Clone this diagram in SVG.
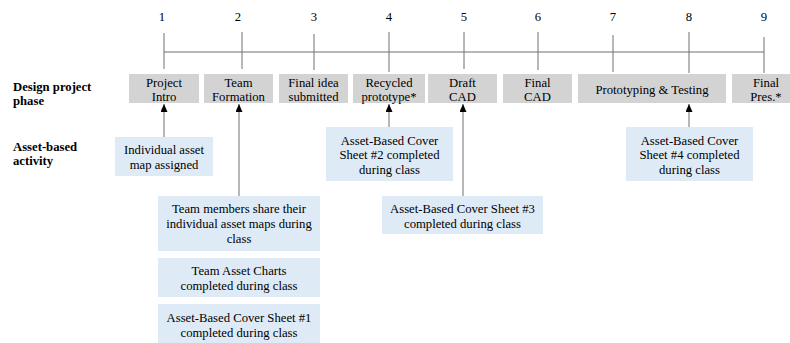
<svg xmlns="http://www.w3.org/2000/svg" width="790" height="343" viewBox="0 0 790 343">
<defs>
<style>
text{font-family:"Liberation Serif","Times New Roman",serif;font-size:12.7px;fill:#000;text-anchor:middle}
.lbl{font-weight:bold;text-anchor:start}
.phase{fill:#d3d3d3}
.act{fill:#deebf7}
.tl{stroke:#707070;stroke-width:1;fill:none}
.conn{stroke:#a6a6a6;stroke-width:1.6;fill:none;marker-end:url(#arr)}
</style>
<marker id="arr" viewBox="0 0 8 7" refX="8" refY="3.5" markerWidth="8" markerHeight="7" markerUnits="userSpaceOnUse" orient="auto">
<path d="M0,0 L8,3.5 L0,7 z" fill="#000"/>
</marker>
</defs>
<rect width="790" height="343" fill="#fff"/>

<g id="timeline">
<text x="162" y="21">1</text>
<text x="238" y="21">2</text>
<text x="314" y="21">3</text>
<text x="389" y="21">4</text>
<text x="464" y="21">5</text>
<text x="538" y="21">6</text>
<text x="613" y="21">7</text>
<text x="689" y="21">8</text>
<text x="764" y="21">9</text>
<path class="tl" d="M164,52 H764 M164,33 V69 M242,32 V69 M314,34 V70 M389,32 V72 M464,32 V69 M538,32 V70 M613,35 V72 M689,32 V73 M764,37 V73"/>
</g>

<g id="labels">
<text class="lbl" x="13" y="91">Design project</text>
<text class="lbl" x="13" y="105">phase</text>
<text class="lbl" x="13" y="151">Asset-based</text>
<text class="lbl" x="13" y="165">activity</text>
</g>

<g id="phase1"><rect class="phase" x="129" y="74" width="70" height="29"/><text x="164" y="86.5">Project</text><text x="164" y="100.5">Intro</text></g>
<g id="phase2"><rect class="phase" x="204" y="74" width="69" height="29"/><text x="238.5" y="86.5">Team</text><text x="238.5" y="100.5">Formation</text></g>
<g id="phase3"><rect class="phase" x="279" y="74" width="69" height="29"/><text x="313.5" y="86.5">Final idea</text><text x="313.5" y="100.5">submitted</text></g>
<g id="phase4"><rect class="phase" x="353" y="74" width="72" height="29"/><text x="389" y="86.5">Recycled</text><text x="389" y="100.5">prototype*</text></g>
<g id="phase5"><rect class="phase" x="428" y="74" width="69" height="29"/><text x="462.5" y="86.5">Draft</text><text x="462.5" y="100.5">CAD</text></g>
<g id="phase6"><rect class="phase" x="503" y="74" width="69" height="29"/><text x="537.5" y="86.5">Final</text><text x="537.5" y="100.5">CAD</text></g>
<g id="phase7"><rect class="phase" x="578" y="74" width="148" height="29"/><text x="652" y="93.5">Prototyping &amp; Testing</text></g>
<g id="phase8"><rect class="phase" x="732" y="74" width="70" height="29"/><text x="766" y="86.5">Final</text><text x="766" y="100.5">Pres.*</text></g>

<g id="act1"><rect class="act" x="115" y="137" width="98" height="39"/><text x="164" y="154">Individual asset</text><text x="164" y="168.5">map assigned</text></g>
<g id="act2"><rect class="act" x="158" y="196" width="162" height="55"/><text x="239" y="213">Team members share their</text><text x="239" y="228">individual asset maps during</text><text x="239" y="243">class</text></g>
<g id="act3"><rect class="act" x="158" y="258" width="162" height="39"/><text x="239" y="274.5">Team Asset Charts</text><text x="239" y="289.5">completed during class</text></g>
<g id="act4"><rect class="act" x="158" y="304" width="162" height="39"/><text x="239" y="321.5">Asset-Based Cover Sheet #1</text><text x="239" y="336.5">completed during class</text></g>
<g id="act5"><rect class="act" x="326" y="127" width="127" height="54"/><text x="389.5" y="144.5">Asset-Based Cover</text><text x="389.5" y="159">Sheet #2 completed</text><text x="389.5" y="174">during class</text></g>
<g id="act6"><rect class="act" x="382" y="196" width="161" height="38"/><text x="462.5" y="213">Asset-Based Cover Sheet #3</text><text x="462.5" y="227.5">completed during class</text></g>
<g id="act7"><rect class="act" x="626" y="127" width="127" height="54"/><text x="689.5" y="144.5">Asset-Based Cover</text><text x="689.5" y="159">Sheet #4 completed</text><text x="689.5" y="174">during class</text></g>

<g id="connectors">
<line class="conn" x1="164" y1="137" x2="164" y2="104"/>
<line class="conn" x1="239" y1="196" x2="239" y2="104"/>
<line class="conn" x1="389" y1="127" x2="389" y2="104"/>
<line class="conn" x1="463" y1="196" x2="463" y2="104"/>
<line class="conn" x1="689" y1="127" x2="689" y2="104"/>
</g>
</svg>
